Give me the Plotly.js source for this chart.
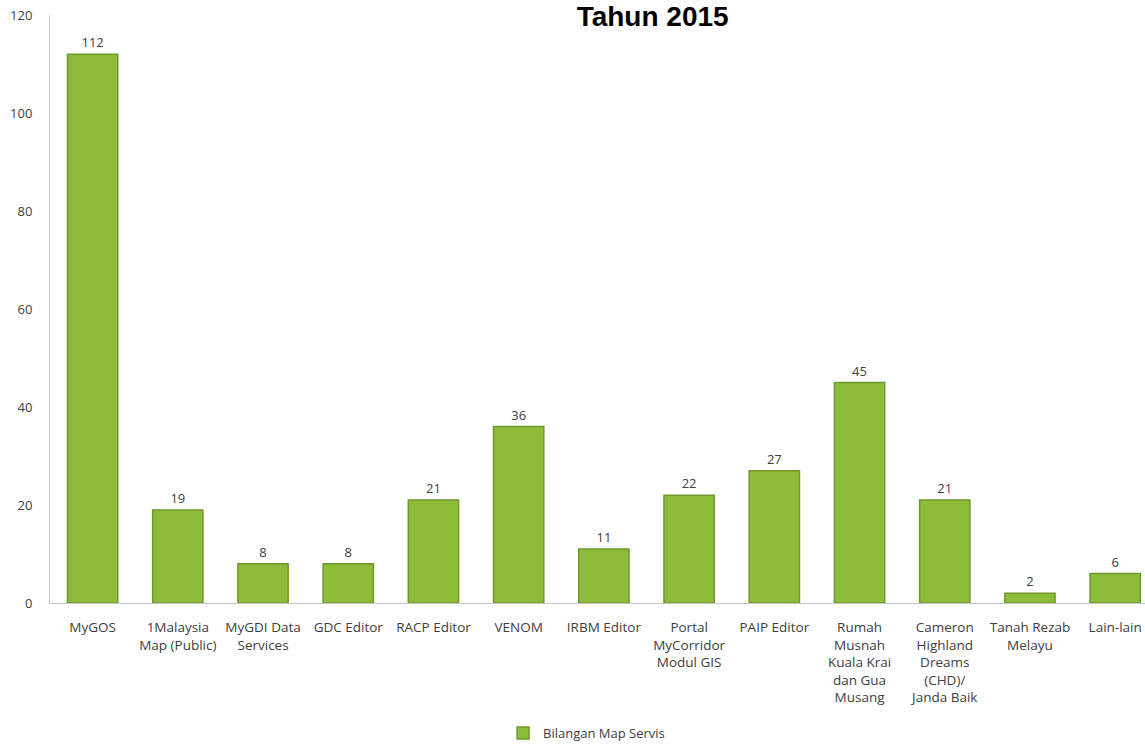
<!DOCTYPE html>
<html><head><meta charset="utf-8">
<script src="https://cdn.plot.ly/plotly-3.0.1.min.js"></script>
<style>html,body{margin:0;padding:0;background:#fff}#chart{width:1145px;height:748px}</style>
</head><body><div id="chart"></div>
<script>
const categories = ["MyGOS","1Malaysia<br>Map (Public)","MyGDI Data<br>Services","GDC Editor","RACP Editor","VENOM","IRBM Editor","Portal<br>MyCorridor<br>Modul GIS","PAIP Editor","Rumah<br>Musnah<br>Kuala Krai<br>dan Gua<br>Musang","Cameron<br>Highland<br>Dreams<br>(CHD)/<br>Janda Baik","Tanah Rezab<br>Melayu","Lain-lain"];
const values = [112,19,8,8,21,36,11,22,27,45,21,2,6];
const seriesName = "Bilangan Map Servis";
const yTicks = [0,20,40,60,80,100,120];

const trace = {
  type: 'bar',
  x: categories.map((c,i)=>i),
  y: values,
  name: seriesName,
  width: 0.59,
  marker: {color: '#8dbb3a', line: {color: '#6f9a2a', width: 1.5}},
  text: values.map(String),
  textposition: 'outside',
  textfont: {family: 'Open Sans, sans-serif', size: 13, color: '#404040'},
  cliponaxis: false,
  showlegend: true
};

const layout = {
  width: 1145, height: 748,
  margin: {l: 50, r: 0, t: 15, b: 142},
  paper_bgcolor: '#fff', plot_bgcolor: '#fff',
  font: {family: 'Open Sans, sans-serif', size: 13, color: '#404040'},
  title: {text: '<b>Tahun 2015</b>', x: 0.570, xanchor: 'center', y: 0.978, yanchor: 'middle',
          font: {family: 'Liberation Sans, Arial, sans-serif', size: 28, color: '#000'}},
  xaxis: {
    range: [-0.5, 12.35],
    tickmode: 'array', tickvals: categories.map((c,i)=>i), ticktext: categories,
    showline: true, linecolor: '#c8c8c8', linewidth: 1,
    showgrid: false, zeroline: false, ticks: '', tickangle: 0,
    ticklabelstandoff: 12,
    tickfont: {family: 'Open Sans, sans-serif', size: 13.5, color: '#404040'},
    fixedrange: true
  },
  yaxis: {
    range: [0, 120],
    tickmode: 'array', tickvals: yTicks, ticktext: yTicks.map(String),
    showline: true, linecolor: '#c8c8c8', linewidth: 1,
    showgrid: false, zeroline: false, ticks: '',
    ticklabelstandoff: 14,
    tickfont: {family: 'Open Sans, sans-serif', size: 13, color: '#404040'}
  },
  legend: {orientation: 'h', x: 0.49, xanchor: 'center', y: -0.222, yanchor: 'middle',
           font: {family: 'Open Sans, sans-serif', size: 13, color: '#404040'}}
};

Plotly.newPlot('chart', [trace], layout, {displayModeBar: false, staticPlot: true});
</script></body></html>
